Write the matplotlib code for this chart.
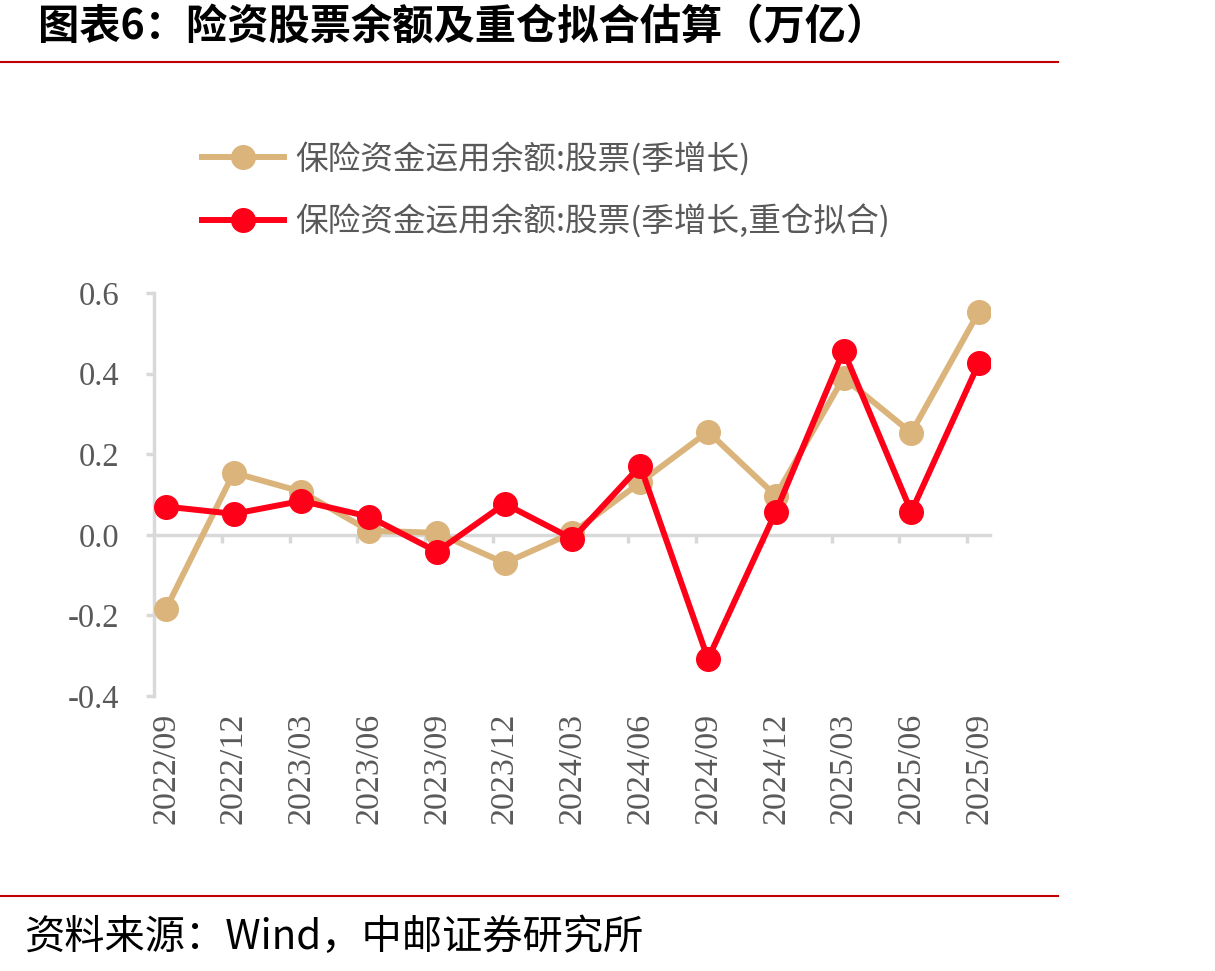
import numpy as np
import matplotlib.pyplot as plt
from matplotlib.lines import Line2D

plt.rcParams['font.family'] = ['Liberation Serif', 'Noto Sans CJK SC', 'DejaVu Sans']

quarters = ['2022/09', '2022/12', '2023/03', '2023/06', '2023/09', '2023/12', '2024/03',
            '2024/06', '2024/09', '2024/12', '2025/03', '2025/06', '2025/09']
stock_growth = [-0.184, 0.154, 0.107, 0.010, 0.005, -0.070, 0.005,
                0.130, 0.256, 0.097, 0.390, 0.253, 0.554]
fit_growth = [0.070, 0.052, 0.084, 0.045, -0.042, 0.077, -0.010,
              0.171, -0.308, 0.057, 0.457, 0.057, 0.427]
yticks = [-0.4, -0.2, 0.0, 0.2, 0.4, 0.6]
labels = ['保险资金运用余额:股票(季增长)', '保险资金运用余额:股票(季增长,重仓拟合)']

TAN = '#DBB47C'
RED = '#FF0019'
GRID = '#D9D9D9'
TXT = '#595959'

W, H = 1215, 971
fig = plt.figure(figsize=(W / 100, H / 100), dpi=100)
ax = fig.add_axes([154 / W, (H - 696) / H, (990 - 154) / W, (696 - 293) / H])

x = np.arange(len(quarters))
ax.plot(x, stock_growth, color=TAN, lw=4.3, marker='o', ms=17, zorder=3, label=labels[0])
ax.plot(x, fit_growth, color=RED, lw=4.3, marker='o', ms=17, zorder=4, label=labels[1])

off = 12 / 68
ax.set_xlim(-off, len(quarters) - 1 + (990 - 979) / 68)
ax.set_ylim(-0.4, 0.6)

for s in ['top', 'right']:
    ax.spines[s].set_visible(False)
ax.spines['left'].set_color(GRID)
ax.spines['left'].set_linewidth(2.5)
ax.spines['bottom'].set_position(('data', 0))
ax.spines['bottom'].set_color(GRID)
ax.spines['bottom'].set_linewidth(2.5)

ax.set_yticks(yticks)
ax.set_yticklabels(['%.1f' % v for v in yticks])
ax.tick_params(axis='y', length=6, width=2.5, color=GRID, labelsize=23.5, labelcolor=TXT, pad=19)

ax.set_xticks(x)
ax.set_xticklabels(quarters, rotation=90, va='top', ha='center')
ax.tick_params(axis='x', which='major', length=0, labelsize=24.5, labelcolor=TXT, pad=128)
ax.set_xticks(np.arange(1, len(quarters)) - off, minor=True)
ax.tick_params(axis='x', which='minor', length=6, width=2.5, color=GRID)

handles = [Line2D([], [], color=TAN, lw=4.3, marker='o', ms=17),
           Line2D([], [], color=RED, lw=4.3, marker='o', ms=17)]
leg = fig.legend(handles, labels, loc='upper left', bbox_to_anchor=(173 / W, 1 - 112 / H),
                 frameon=False, handlelength=2.5, handletextpad=0.34,
                 labelspacing=0.9,
                 prop={'family': ['Noto Sans CJK SC', 'DejaVu Sans'], 'size': 23.5})
for t in leg.get_texts():
    t.set_color(TXT)

fig.text(38 / W, 1 - 27 / H, '图表6：险资股票余额及重仓拟合估算（万亿）', ha='left', va='center',
         fontsize=29.7, fontweight='bold', family=['Noto Sans CJK SC', 'DejaVu Sans'], color='black')
fig.text(25 / W, 1 - 937 / H, '资料来源：Wind，中邮证券研究所', ha='left', va='center',
         fontsize=29, family=['Noto Sans CJK SC', 'DejaVu Sans'], color='black')

fig.add_artist(Line2D([0, 1058 / W], [1 - 62 / H, 1 - 62 / H], color='#C00000', lw=1.5))
fig.add_artist(Line2D([0, 1058 / W], [1 - 896 / H, 1 - 896 / H], color='#C00000', lw=1.5))

fig.savefig('out.png', dpi=100)
